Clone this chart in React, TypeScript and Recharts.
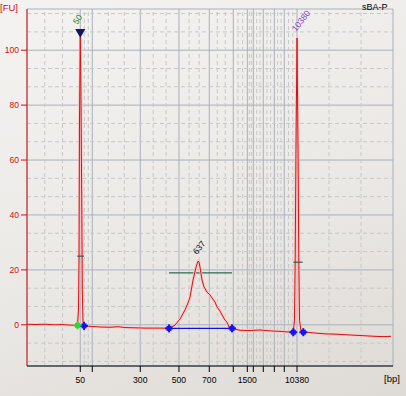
import React from "react";
import { CartesianGrid, ComposedChart, Line, ReferenceLine, Scatter, XAxis, YAxis } from "recharts";

// ladder fragments (bp) and where they sit on the migration-time axis (s)
const ladderSizes = [50, 100, 300, 500, 700, 1000, 1500, 2000, 3000, 5000, 7000, 10380];
const ladderTimes = [28.88, 30.88, 38.88, 45.33, 50.38, 54.38, 56.72, 57.72, 59.38, 61.22, 62.88, 65.0];
const shownSizes = [50, 300, 500, 700, 1500, 10380];
const fuTicks = [0, 20, 40, 60, 80, 100];

// electropherogram trace
const traceTime = [
  20.0, 21.33, 23.0, 24.67, 25.83, 27.17, 28.17, 28.42, 28.58, 28.67, 28.75, 28.88, 29.0, 29.12, 29.22, 29.33,
  29.5, 30.83, 32.17, 33.83, 35.17, 36.33, 38.0, 39.67, 41.33, 42.5, 43.67, 44.67, 45.5, 46.33, 46.83, 47.17,
  47.67, 48.17, 48.5, 48.67, 48.83, 49.17, 49.5, 50.0, 50.5, 50.83, 51.33, 51.67, 52.17, 52.5, 53.0, 53.33,
  53.67, 54.17, 55.5, 57.17, 58.83, 60.5, 62.17, 63.5, 64.38, 64.58, 64.7, 64.83, 65.0, 65.17, 65.3, 65.42,
  65.67, 66.05, 67.17, 68.0, 69.67, 71.33, 73.0, 74.67, 76.33, 78.0, 79.33, 80.67,
];
const traceFU = [
  0.2, 0.1, 0.2, 0.0, 0.1, -0.1, -0.2, -0.2, 5.4, 23.6, 74.6, 104.8, 81.9, 45.5, 12.7, 1.0,
  -0.4, -0.6, -0.8, -0.9, -0.7, -1.0, -1.1, -1.2, -1.2, -1.2, -1.3, -0.1, 2.1, 5.4, 7.9, 10.1,
  16.3, 21.0, 23.2, 22.9, 21.0, 16.3, 13.8, 11.9, 10.9, 9.8, 8.3, 6.5, 5.0, 3.6, 1.7, 1.0,
  -0.8, -1.3, -2.0, -2.1, -1.9, -2.2, -2.4, -2.6, -2.7, 1.7, 23.6, 63.7, 104.4, 63.7, 23.6, 1.7,
  -2.3, -2.7, -2.8, -3.0, -3.3, -3.4, -3.6, -3.8, -4.0, -4.2, -4.3, -4.2,
];

// peak start/end markers
const lowerMarkerStart = [{ t: 28.42, fu: -0.2 }];
const peakBounds = [
  { t: 29.5, fu: -0.4 },
  { t: 43.67, fu: -1.3 },
  { t: 54.17, fu: -1.3 },
  { t: 64.38, fu: -2.7 },
  { t: 66.05, fu: -2.7 },
];
const peakCalls = [
  { t: 28.88, fu: 104.8, label: "50" },
  { t: 48.5, fu: 23.2, label: "637" },
  { t: 65.0, fu: 104.4, label: "10380" },
];
const smearFrom = 43.67;
const smearTo = 54.17;
const smearBase = -1.3;
const smearLevel = 18.9;
const markerWidths = [
  { from: 28.38, to: 29.5, fu: 25 },
  { from: 64.38, to: 65.95, fu: 22.8 },
];

const trace = traceTime.map((t, i) => ({ t, fu: traceFU[i] }));

const X_MIN = 20;
const X_MAX = 81;
const FONT = "'Liberation Sans', Arial, sans-serif";
const RED = "#d01010";
const CALL_COLORS: Record<string, string> = { "50": "#1a8a1a", "637": "#111111", "10380": "#8a3fc8" };

// dashed grid: thirds between the ladder lines
const xEdges = [X_MIN, ...ladderTimes, X_MAX];
const dashedX: number[] = [];
for (let i = 0; i < xEdges.length - 1; i++) {
  const step = (xEdges[i + 1] - xEdges[i]) / 3;
  dashedX.push(xEdges[i] + step, xEdges[i] + 2 * step);
}
const dashedY: number[] = [];
for (let v = -20; v < 120; v += 20) {
  [v + 20 / 3, v + 40 / 3].forEach((d) => {
    if (d > -15 && d < 115) dashedY.push(d);
  });
}

const XTick = ({ x, y, payload }: any) => {
  const size = ladderSizes[ladderTimes.indexOf(payload.value)];
  if (!shownSizes.includes(size)) return null;
  return (
    <text x={x} y={y} dy={8.5} textAnchor="middle" fontFamily={FONT} fontSize={8.6} fill="#000">
      {size}
    </text>
  );
};

const YTick = ({ x, y, payload }: any) => (
  <text x={x} y={y} dy={3.2} textAnchor="end" fontFamily={FONT} fontSize={8.6} fill={RED}>
    {payload.value}
  </text>
);

const BoundMarker = (color: string) => (props: any) => {
  const { cx, cy } = props;
  return (
    <g fill={color}>
      <rect x={cx - 2.5} y={cy - 2.5} width={5} height={5} />
      <rect x={cx - 4} y={cy - 1} width={8} height={2} />
      <rect x={cx - 1} y={cy - 4} width={2} height={8} />
    </g>
  );
};

const CallLabel = (props: any) => {
  const { cx, cy, payload } = props;
  const color = CALL_COLORS[payload.label];
  if (payload.label === "50") {
    const lx = cx - 3;
    const ly = cy - 12;
    return (
      <g>
        <polygon points={`${cx - 5},${cy - 8} ${cx + 5},${cy - 8} ${cx},${cy + 1}`} fill="#14145a" />
        <text x={lx} y={ly} transform={`rotate(-55 ${lx} ${ly})`} fontFamily={FONT} fontSize={8.6} fill={color}>
          {payload.label}
        </text>
      </g>
    );
  }
  const lx = cx - 1;
  const ly = cy - 6;
  return (
    <text x={lx} y={ly} transform={`rotate(-52 ${lx} ${ly})`} fontFamily={FONT} fontSize={8.6} fill={color}>
      {payload.label}
    </text>
  );
};

export default function App() {
  return (
    <div
      style={{
        position: "absolute",
        left: 0,
        top: 0,
        width: 406,
        height: 396,
        background: "linear-gradient(160deg, #f4f3f1 0%, #ebe9e6 55%, #dedad5 100%)",
        overflow: "hidden",
      }}
    >
      <ComposedChart width={406} height={396} data={trace} margin={{ top: 9, right: 13, bottom: 0, left: 0 }}>
        <CartesianGrid stroke="#a9b0bc" strokeWidth={1} />
        {dashedX.map((v) => (
          <ReferenceLine key={`dx${v}`} x={v} stroke="#c8c8c8" strokeDasharray="4 3" />
        ))}
        {dashedY.map((v) => (
          <ReferenceLine key={`dy${v}`} y={v} stroke="#c8c8c8" strokeDasharray="4 3" />
        ))}
        <XAxis
          type="number"
          dataKey="t"
          domain={[X_MIN, X_MAX]}
          ticks={ladderTimes}
          interval={0}
          allowDataOverflow
          height={30}
          tickSize={6}
          axisLine={{ stroke: "#000" }}
          tickLine={{ stroke: "#000" }}
          tick={<XTick />}
        />
        <YAxis
          type="number"
          domain={[-15, 115]}
          ticks={fuTicks}
          interval={0}
          allowDataOverflow
          width={27}
          tickSize={6}
          axisLine={{ stroke: RED }}
          tickLine={{ stroke: RED }}
          tick={<YTick />}
        />
        <ReferenceLine
          segment={[{ x: smearFrom, y: smearLevel }, { x: smearTo, y: smearLevel }]}
          stroke="#2b6a4c"
          strokeWidth={1.2}
        />
        <ReferenceLine
          segment={[{ x: smearFrom, y: smearBase }, { x: smearTo, y: smearBase }]}
          stroke="#1010e0"
          strokeWidth={1.2}
        />
        <Line dataKey="fu" stroke="#f8c6c6" strokeWidth={2.6} dot={false} activeDot={false} isAnimationActive={false} />
        <Line dataKey="fu" stroke="#dc1010" strokeWidth={1} dot={false} activeDot={false} isAnimationActive={false} />
        {markerWidths.map((m) => (
          <ReferenceLine
            key={`w${m.from}`}
            segment={[{ x: m.from, y: m.fu }, { x: m.to, y: m.fu }]}
            stroke="#3a5a48"
            strokeWidth={1.2}
          />
        ))}
        <Scatter data={peakBounds} dataKey="fu" shape={BoundMarker("#1414f0")} isAnimationActive={false} />
        <Scatter data={lowerMarkerStart} dataKey="fu" shape={BoundMarker("#22e022")} isAnimationActive={false} />
        <Scatter data={peakCalls} dataKey="fu" shape={CallLabel} isAnimationActive={false} />
      </ComposedChart>
      <svg width={406} height={396} style={{ position: "absolute", left: 0, top: 0, pointerEvents: "none" }}>
        <text x={0} y={11} fontFamily={FONT} fontSize={9.5} fill={RED}>
          [FU]
        </text>
        <text x={362} y={9.5} fontFamily={FONT} fontSize={9} fill="#000">
          sBA-P
        </text>
        <text x={384} y={382} fontFamily={FONT} fontSize={9.5} fill="#000">
          [bp]
        </text>
      </svg>
    </div>
  );
}
